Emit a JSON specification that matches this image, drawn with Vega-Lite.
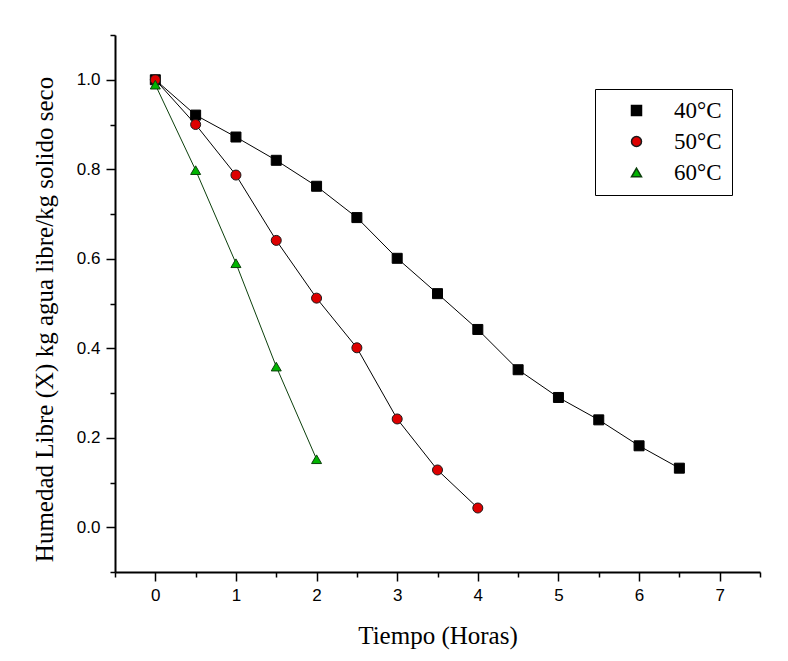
{
  "$schema": "https://vega.github.io/schema/vega-lite/v6.json",
  "width": 645,
  "height": 537,
  "autosize": "none",
  "padding": {"left": 115, "top": 35, "right": 28, "bottom": 89},
  "background": "white",
  "config": {
    "view": {"stroke": null},
    "axis": {
      "domainColor": "black",
      "domainWidth": 2,
      "tickColor": "black",
      "tickWidth": 1.5,
      "labelFont": "Liberation Sans",
      "labelFontSize": 17,
      "labelColor": "black",
      "titleFont": "Liberation Serif",
      "titleFontSize": 25,
      "titleFontWeight": "normal",
      "titleColor": "black",
      "grid": false
    }
  },
  "data": {
    "values": [
      {"tiempo": 0, "humedad": 1.0, "serie": "40°C"},
      {"tiempo": 0.5, "humedad": 0.921, "serie": "40°C"},
      {"tiempo": 1, "humedad": 0.872, "serie": "40°C"},
      {"tiempo": 1.5, "humedad": 0.82, "serie": "40°C"},
      {"tiempo": 2, "humedad": 0.762, "serie": "40°C"},
      {"tiempo": 2.5, "humedad": 0.692, "serie": "40°C"},
      {"tiempo": 3, "humedad": 0.601, "serie": "40°C"},
      {"tiempo": 3.5, "humedad": 0.522, "serie": "40°C"},
      {"tiempo": 4, "humedad": 0.442, "serie": "40°C"},
      {"tiempo": 4.5, "humedad": 0.352, "serie": "40°C"},
      {"tiempo": 5, "humedad": 0.29, "serie": "40°C"},
      {"tiempo": 5.5, "humedad": 0.24, "serie": "40°C"},
      {"tiempo": 6, "humedad": 0.182, "serie": "40°C"},
      {"tiempo": 6.5, "humedad": 0.132, "serie": "40°C"},
      {"tiempo": 0, "humedad": 1.0, "serie": "50°C"},
      {"tiempo": 0.5, "humedad": 0.9, "serie": "50°C"},
      {"tiempo": 1, "humedad": 0.787, "serie": "50°C"},
      {"tiempo": 1.5, "humedad": 0.641, "serie": "50°C"},
      {"tiempo": 2, "humedad": 0.512, "serie": "50°C"},
      {"tiempo": 2.5, "humedad": 0.401, "serie": "50°C"},
      {"tiempo": 3, "humedad": 0.242, "serie": "50°C"},
      {"tiempo": 3.5, "humedad": 0.128, "serie": "50°C"},
      {"tiempo": 4, "humedad": 0.043, "serie": "50°C"},
      {"tiempo": 0, "humedad": 0.989, "serie": "60°C"},
      {"tiempo": 0.5, "humedad": 0.798, "serie": "60°C"},
      {"tiempo": 1, "humedad": 0.59, "serie": "60°C"},
      {"tiempo": 1.5, "humedad": 0.359, "serie": "60°C"},
      {"tiempo": 2, "humedad": 0.152, "serie": "60°C"}
    ]
  },
  "resolve": {"axis": {"x": "independent", "y": "independent"}},
  "layer": [
    {
      "transform": [{"filter": "datum.serie !== '60°C'"}],
      "mark": {"type": "line", "strokeWidth": 1, "color": "#000000"},
      "encoding": {
        "x": {
          "field": "tiempo", "type": "quantitative",
          "scale": {"domain": [-0.5, 7.5], "nice": false, "zero": false},
          "axis": {
            "orient": "bottom",
            "values": [0, 1, 2, 3, 4, 5, 6, 7],
            "format": "d",
            "tickSize": 9,
            "labelPadding": 6,
            "title": "Tiempo (Horas)",
            "titleBaseline": "alphabetic",
            "titleY": 71
          }
        },
        "y": {
          "field": "humedad", "type": "quantitative",
          "scale": {"domain": [-0.1, 1.1], "nice": false, "zero": false},
          "axis": {
            "orient": "left",
            "values": [0, 0.2, 0.4, 0.6, 0.8, 1.0],
            "format": ".1f",
            "tickSize": 9,
            "labelPadding": 6,
            "title": "Humedad Libre (X) kg agua libre/kg solido seco",
            "titleBaseline": "alphabetic",
            "titleX": -63,
            "titleY": 284
          }
        },
        "detail": {"field": "serie"}
      }
    },
    {
      "transform": [{"filter": "datum.serie === '60°C'"}],
      "mark": {"type": "line", "strokeWidth": 1, "color": "#0c400c"},
      "encoding": {
        "x": {"field": "tiempo", "type": "quantitative", "axis": null},
        "y": {"field": "humedad", "type": "quantitative", "axis": null}
      }
    },
    {
      "mark": {"type": "point", "filled": true, "opacity": 1, "strokeWidth": 1},
      "encoding": {
        "x": {"field": "tiempo", "type": "quantitative", "axis": null},
        "y": {"field": "humedad", "type": "quantitative", "axis": null},
        "size": {
          "field": "serie", "type": "nominal",
          "scale": {"domain": ["40°C", "50°C", "60°C"], "range": [100, 100, 150]},
          "legend": {
            "title": null, "orient": "none", "legendX": 480, "legendY": 54, "padding": 10,
            "strokeColor": "black", "fillColor": "white",
            "labelFont": "Liberation Serif", "labelFontSize": 23, "labelColor": "black",
            "symbolSize": 169, "symbolOffset": 20, "labelOffset": 26, "rowPadding": 7
          }
        },
        "shape": {
          "field": "serie", "type": "nominal",
          "scale": {"domain": ["40°C", "50°C", "60°C"], "range": ["square", "circle", "triangle-up"]},
          "legend": {
            "title": null, "orient": "none", "legendX": 480, "legendY": 54, "padding": 10,
            "strokeColor": "black", "fillColor": "white",
            "labelFont": "Liberation Serif", "labelFontSize": 23, "labelColor": "black",
            "symbolSize": 169, "symbolOffset": 20, "labelOffset": 26, "rowPadding": 7
          }
        },
        "fill": {
          "field": "serie", "type": "nominal",
          "scale": {"domain": ["40°C", "50°C", "60°C"], "range": ["#000000", "#dd0000", "#00b400"]},
          "legend": {
            "title": null, "orient": "none", "legendX": 480, "legendY": 54, "padding": 10,
            "strokeColor": "black", "fillColor": "white",
            "labelFont": "Liberation Serif", "labelFontSize": 23, "labelColor": "black",
            "symbolSize": 169, "symbolOffset": 20, "labelOffset": 26, "rowPadding": 7
          }
        },
        "stroke": {
          "field": "serie", "type": "nominal",
          "scale": {"domain": ["40°C", "50°C", "60°C"], "range": ["#000000", "#1a1a1a", "#0c400c"]},
          "legend": {
            "title": null, "orient": "none", "legendX": 480, "legendY": 54, "padding": 10,
            "strokeColor": "black", "fillColor": "white",
            "labelFont": "Liberation Serif", "labelFontSize": 23, "labelColor": "black",
            "symbolSize": 169, "symbolOffset": 20, "labelOffset": 26, "rowPadding": 7
          }
        }
      }
    },
    {
      "mark": {"type": "point", "opacity": 0},
      "encoding": {
        "x": {
          "field": "tiempo", "type": "quantitative",
          "axis": {
            "orient": "bottom",
            "values": [-0.5, 0.5, 1.5, 2.5, 3.5, 4.5, 5.5, 6.5, 7.5],
            "labels": false,
            "domain": false,
            "tickSize": 5,
            "title": null
          }
        },
        "y": {
          "field": "humedad", "type": "quantitative",
          "axis": {
            "orient": "left",
            "values": [-0.1, 0.1, 0.3, 0.5, 0.7, 0.9, 1.1],
            "labels": false,
            "domain": false,
            "tickSize": 5,
            "title": null
          }
        }
      }
    }
  ]
}
